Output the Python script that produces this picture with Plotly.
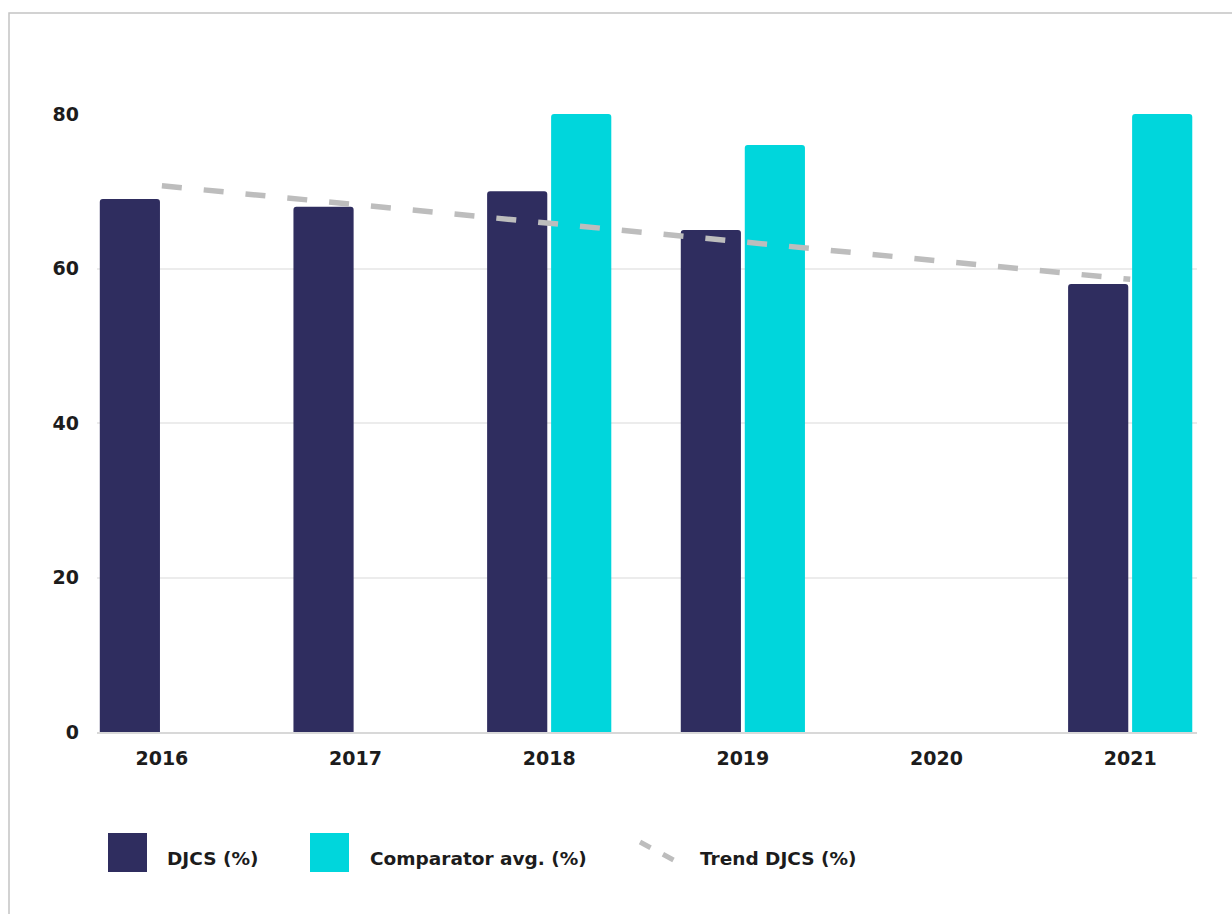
import plotly.graph_objects as go

years = ["2016", "2017", "2018", "2019", "2020", "2021"]
djcs = [69, 68, 70, 65, None, 58]
comparator = [None, None, 80, 76, None, 80]
trend_years = ["2016", "2021"]
trend_vals = [70.7, 58.6]
y_ticks = [0, 20, 40, 60, 80]

DJCS_COLOR = "#2f2d5f"
COMP_COLOR = "#00d6dc"
TREND_COLOR = "#bdbdbd"
TEXT_COLOR = "#1c1c1c"
FONT = "DejaVu Sans"

fig = go.Figure()
fig.add_trace(go.Bar(x=years, y=djcs, name="DJCS (%)", marker_color=DJCS_COLOR,
                     marker_line_width=0))
fig.add_trace(go.Bar(x=years, y=comparator, name="Comparator avg. (%)", marker_color=COMP_COLOR,
                     marker_line_width=0))
fig.add_trace(go.Scatter(x=trend_years, y=trend_vals, mode="lines", name="Trend DJCS (%)",
                         line=dict(color=TREND_COLOR, width=5.5, dash="20px,22px")))

L, R, T, B = 97, 35, 114, 182
W, H = 1232, 914
pw, ph = W - L - R, H - T - B


def px(x):
    return (x - L) / pw


def py(y):
    return (H - B - y) / ph


shapes = [
    # outer border
    dict(type="rect", xref="paper", yref="paper", x0=px(9), x1=px(1260), y0=py(13), y1=py(950),
         line=dict(color="#c4c4c4", width=1.5), fillcolor="rgba(0,0,0,0)", layer="below"),
    # legend swatches
    dict(type="rect", xref="paper", yref="paper", x0=px(108), x1=px(147), y0=py(872), y1=py(833),
         line=dict(width=0), fillcolor=DJCS_COLOR),
    dict(type="rect", xref="paper", yref="paper", x0=px(310), x1=px(349), y0=py(872), y1=py(833),
         line=dict(width=0), fillcolor=COMP_COLOR),
    dict(type="line", xref="paper", yref="paper", x0=px(640), x1=px(681), y0=py(842), y1=py(864),
         line=dict(color=TREND_COLOR, width=5, dash="12px,14px")),
]

annotations = []
for xpix, txt in [(165, "DJCS (%)"), (368, "Comparator avg. (%)"), (698, "Trend DJCS (%)")]:
    annotations.append(dict(xref="paper", yref="paper", x=px(xpix), y=py(858), text=txt,
                            showarrow=False, xanchor="left", yanchor="middle",
                            font=dict(family=FONT, size=18.5, color=TEXT_COLOR, weight="bold")))

fig.update_layout(
    width=W, height=H,
    margin=dict(l=L, r=R, t=T, b=B),
    paper_bgcolor="white", plot_bgcolor="white",
    barmode="group", bargap=0.339, bargroupgap=0.06,
    barcornerradius=3,
    showlegend=False,
    shapes=shapes,
    annotations=annotations,
    xaxis=dict(type="category", range=[-0.335, 5.345], showgrid=False,
               showline=True, linecolor="#d8d8d8", linewidth=1.5,
               ticks="", tickfont=dict(family=FONT, size=19, color=TEXT_COLOR, weight="bold"),
               ticklabelstandoff=8),
    yaxis=dict(range=[0, 80], tickvals=y_ticks, showgrid=True, gridcolor="#ececec", gridwidth=1.5,
               zeroline=False, showline=False, ticks="",
               tickfont=dict(family=FONT, size=19, color=TEXT_COLOR, weight="bold"),
               ticklabelstandoff=17),
)

fig.write_html("out.html")
